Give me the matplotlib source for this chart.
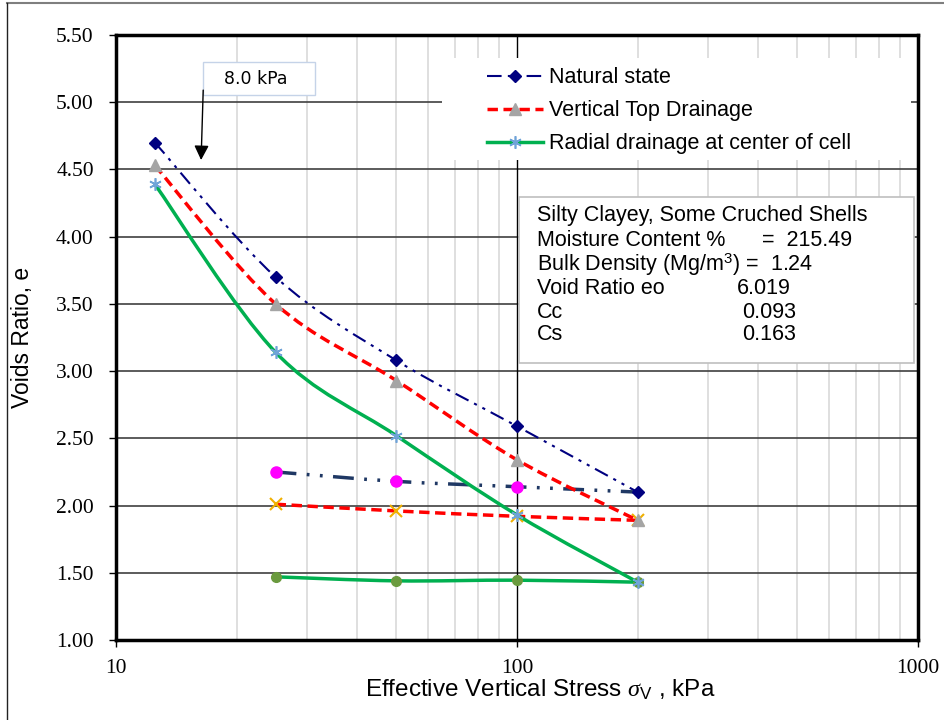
import numpy as np
import matplotlib
matplotlib.use('Agg')
import matplotlib.pyplot as plt
from matplotlib.patches import Rectangle, PathPatch
from matplotlib.lines import Line2D
from matplotlib.path import Path

# Loading curves (kPa, voids ratio)
stress = [12.5, 25, 50, 100, 200]
natural = [4.70, 3.70, 3.08, 2.59, 2.10]
vertical = [4.53, 3.50, 2.93, 2.34, 1.89]
radial = [4.39, 3.14, 2.52, 1.93, 1.43]

# Unloading curves
unload_stress = [25, 50, 100, 200]
natural_unload = [2.25, 2.18, 2.14, 2.10]
vertical_unload = [2.01, 1.96, 1.92, 1.89]
radial_unload = [1.47, 1.44, 1.445, 1.43]

labels = ['Natural state', 'Vertical Top Drainage', 'Radial drainage at center of cell']
yticks = [1.0, 1.5, 2.0, 2.5, 3.0, 3.5, 4.0, 4.5, 5.0, 5.5]

info_labels = ['Silty Clayey, Some Cruched Shells', 'Moisture Content %',
               'Bulk Density (Mg/m$^3$) =  1.24', 'Void Ratio eo', 'Cc', 'Cs']
info_values = ['', '=  215.49', '', '6.019', '0.093', '0.163']

plt.rcParams['font.family'] = ['Liberation Sans', 'DejaVu Sans']
plt.rcParams['mathtext.fontset'] = 'custom'
plt.rcParams['mathtext.rm'] = 'Liberation Sans'
plt.rcParams['mathtext.it'] = 'Liberation Serif:italic'


def smooth_path(xs, ys, t=1 / 6):
    # Excel-like smoothed line: cubic Bezier through the points (log x)
    pts = np.column_stack([np.log10(xs), ys])
    n = len(pts)
    verts = [pts[0]]
    codes = [Path.MOVETO]
    for i in range(n - 1):
        p0 = pts[i - 1] if i > 0 else pts[i]
        p1, p2 = pts[i], pts[i + 1]
        p3 = pts[i + 2] if i + 2 < n else pts[i + 1]
        verts += [p1 + (p2 - p0) * t, p2 - (p3 - p1) * t, p2]
        codes += [Path.CURVE4] * 3
    verts = np.array(verts)
    verts[:, 0] = 10 ** verts[:, 0]
    return Path(verts, codes)


def draw_curve(ax, xs, ys, color, lw, ls, z):
    ax.add_patch(PathPatch(smooth_path(xs, ys), fill=False, edgecolor=color,
                           lw=lw, linestyle=ls, zorder=z))


fig = plt.figure(figsize=(9.44, 7.2), dpi=100)
ax = fig.add_axes([116 / 944, 1 - 640 / 720, 802 / 944, 605 / 720])

ax.set_xscale('log')
ax.set_xlim(10, 1000)
ax.set_ylim(1.0, 5.5)

# grid
for y in yticks[1:-1]:
    ax.axhline(y, color='#404040', lw=1.2, zorder=1)
for d in [10, 100]:
    for m in range(2, 10):
        ax.axvline(d * m, color='#d9d9d9', lw=1.2, zorder=0.5)
ax.axvline(100, color='black', lw=1.0, zorder=1)

nat_ls = (0, (7, 3, 1.5, 3, 1.5, 3))
red_ls = (0, (3, 1.6))
unl_ls = (0, (6, 3, 0.8, 3, 0.8, 3))

# loading curves
draw_curve(ax, stress, natural, '#000080', 1.5, nat_ls, 4)
ax.plot(stress, natural, ls='none', marker='D', ms=6, mfc='#000080', mec='#000080', zorder=4.5)
draw_curve(ax, stress, vertical, '#ff0000', 2.5, red_ls, 4)
ax.plot(stress, vertical, ls='none', marker='^', ms=8, mfc='#a5a5a5', mec='#a5a5a5', zorder=4.5)
draw_curve(ax, stress, radial, '#00b050', 2.5, '-', 4)
ax.plot(stress, radial, ls='none', marker=(6, 2, 0), ms=9, mec='#6fa3d8', mew=1.2, zorder=4.5)

# unloading curves
draw_curve(ax, unload_stress, natural_unload, '#1f3864', 2.5, unl_ls, 3)
ax.plot(unload_stress[:-1], natural_unload[:-1], ls='none', marker='o', ms=8,
        mfc='#ff00ff', mec='#ff00ff', zorder=3.5)
draw_curve(ax, unload_stress, vertical_unload, '#ff0000', 2.5, red_ls, 3)
ax.plot(unload_stress, vertical_unload, ls='none', marker='x', ms=8, mec='#f0b000',
        mew=1.5, zorder=3.5)
draw_curve(ax, unload_stress, radial_unload, '#00b050', 2.5, '-', 3)
ax.plot(unload_stress, radial_unload, ls='none', marker='o', ms=7, mfc='#6a9a3e',
        mec='#6a9a3e', zorder=3.5)

# ticks
ax.set_yticks(yticks)
ax.set_yticklabels([f'{v:.2f}' for v in yticks])
ax.set_xticks([10, 100, 1000])
ax.set_xticklabels(['10', '100', '1000'])
ax.xaxis.set_minor_locator(plt.NullLocator())
ax.tick_params(axis='y', direction='out', length=5, width=1, pad=11, labelsize=15.5)
ax.tick_params(axis='x', direction='out', length=5, width=1, pad=9, labelsize=15.5)
for lab in ax.get_xticklabels() + ax.get_yticklabels():
    lab.set_fontfamily('Liberation Serif')
for s in ax.spines.values():
    s.set_linewidth(2.5)
    s.set_zorder(6)

ax.set_ylabel('Voids Ratio, e', fontsize=16.5)
ax.yaxis.set_label_coords(-0.102, 0.5)
ax.set_xlabel(r'Effective Vertical Stress $\sigma_{\rm V}$ , kPa', fontsize=17.5, va='center')
ax.xaxis.set_label_coords(0.529, -0.083)

# legend background and legend
ax.add_patch(Rectangle((0.4065, 0.793), 0.585, 0.169, transform=ax.transAxes,
                       facecolor='white', edgecolor='none', zorder=2))
handles = [
    Line2D([], [], color='#000080', lw=1.5, ls=nat_ls, marker='D', ms=6,
           mfc='#000080', mec='#000080'),
    Line2D([], [], color='#ff0000', lw=2.5, ls=red_ls, marker='^', ms=8,
           mfc='#a5a5a5', mec='#a5a5a5'),
    Line2D([], [], color='#00b050', lw=2.5, marker=(6, 2, 0), ms=9,
           mec='#6fa3d8', mew=1.2),
]
leg = ax.legend(handles, labels, loc='upper left', bbox_to_anchor=(0.4626, 0.9465),
                frameon=False, fontsize=15.5, handlelength=2.6, handletextpad=0.3,
                labelspacing=0.56, borderpad=0, borderaxespad=0, numpoints=1)
leg.set_zorder(7)

# info box
ax.add_patch(Rectangle((0.5025, 0.458), 0.4925, 0.274, transform=ax.transAxes,
                       facecolor='white', edgecolor='#bfbfbf', lw=1.2, zorder=5))
row_y = [215, 240, 265, 289, 312, 335]
value_x = [0, 762, 0, 737, 742, 742]
for lab, val, py, vx in zip(info_labels, info_values, row_y, value_x):
    ax.text((537 - 116) / 802, (640 - py) / 605, lab, transform=ax.transAxes,
            fontsize=15.5, va='center', ha='left', zorder=6)
    if val:
        ax.text((vx - 116) / 802, (640 - py) / 605, val, transform=ax.transAxes,
                fontsize=15.5, va='center', ha='left', zorder=6)

# 8.0 kPa annotation
ax.add_patch(Rectangle((16.5, 5.055), 31.4 - 16.5, 0.245, facecolor='white',
                       edgecolor='#c5d3e8', lw=1, zorder=5))
ax.text(18.6, 5.17, '8.0 kPa', fontsize=12.5, family='DejaVu Sans', va='center',
        ha='left', zorder=6)
ax.annotate('', xy=(16.3, 4.57), xytext=(16.5, 5.09),
            arrowprops=dict(arrowstyle='-|>', color='black', lw=1.0,
                            mutation_scale=22, shrinkA=0, shrinkB=0), zorder=6)

# outer frame of the page
fig.add_artist(Line2D([7 / 944, 1], [1 - 3 / 720, 1 - 3 / 720], color='#7f7f7f', lw=1.5))
fig.add_artist(Line2D([7 / 944, 7 / 944], [0, 1 - 3 / 720], color='#222222', lw=1.0))

fig.savefig('out.png', dpi=100)
